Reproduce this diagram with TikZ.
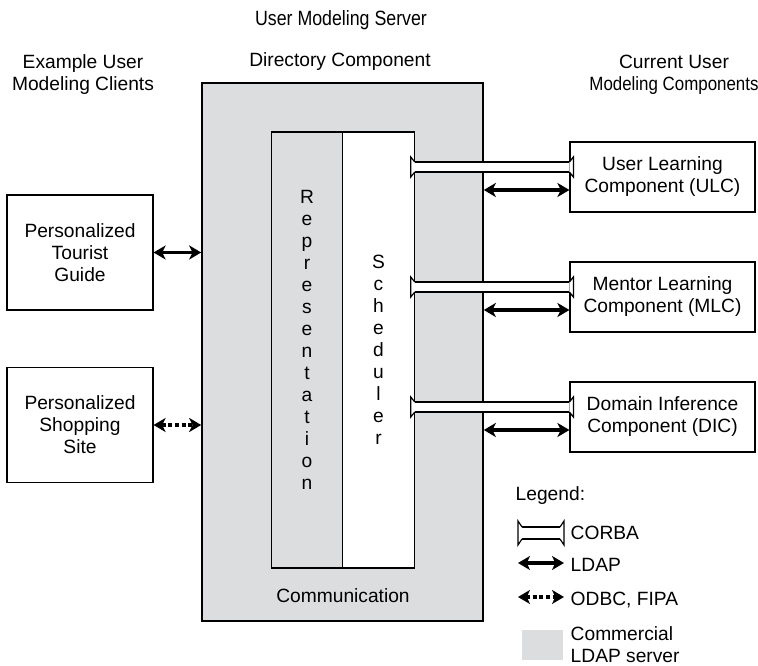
\documentclass[tikz,border=0pt]{standalone}
\usepackage{fontspec}
\setmainfont{Liberation Sans}
\usetikzlibrary{arrows.meta,calc}

\definecolor{servergray}{RGB}{220,221,223}

\tikzset{
  clientbox/.style={draw, line width=0.9pt, fill=white, align=center, minimum width=109.5pt, minimum height=86.25pt, inner sep=0pt},
  compbox/.style={draw, line width=0.9pt, fill=white, align=center, minimum width=138.75pt, minimum height=52.5pt, inner sep=0pt},
  column/.style={draw, line width=0.9pt, align=center, minimum width=53.5pt, minimum height=327pt, inner sep=0pt},
  ldap/.style={line width=2.6pt, {Stealth[length=9pt,width=10.5pt,inset=2.5pt]}-{Stealth[length=9pt,width=10.5pt,inset=2.5pt]}},
  odbc/.style={ldap, dash pattern=on 3pt off 2pt},
}

% CORBA pipe between two points at the same height (#1 = half height of the tube)
\newcommand{\corba}[3][5]{%
  \fill[white] ($(#2)+(0,-#1)$) rectangle ($(#3)+(0,#1)$);
  \draw[line width=0.9pt] ($(#2)+(0,-#1)$) -- ($(#3)+(0,-#1)$) ($(#2)+(0,#1)$) -- ($(#3)+(0,#1)$);
  \filldraw[fill=white,line width=0.9pt] ($(#2)+(0,-#1)$) -- ($(#2)+(-4,-2*#1)$) -- ($(#2)+(-4,2*#1)$) -- ($(#2)+(0,#1)$);
  \filldraw[fill=white,line width=0.9pt] ($(#3)+(0,-#1)$) -- ($(#3)+(4,-2*#1)$) -- ($(#3)+(4,2*#1)$) -- ($(#3)+(0,#1)$);
}

\begin{document}
\begin{tikzpicture}[x=0.75pt,y=-0.75pt,font=\fontsize{14.4}{16.5}\selectfont]
  \useasboundingbox (0,0) rectangle (758,666);

  % Headings
  \node (title) at (341,20) {\fontsize{15.5}{18}\selectfont\scalebox{0.86}[1]{User Modeling Server}};
  \node[align=center] (clients) at (83,75) {Example User\\Modeling Clients};
  \node (directory) at (340,62) {Directory Component};
  \node[align=center] (current) at (674,75) {Current User\\\scalebox{0.88}[1]{Modeling Components}};

  % Server
  \node[draw, line width=1.2pt, fill=servergray, minimum width=210.75pt, minimum height=403.5pt] (server) at (342.5,352) {};
  \node[column, fill=servergray] (repr) at (307,350) {};
  \node[align=center] (reprtext) at (307,340) {R\\e\\p\\r\\e\\s\\e\\n\\t\\a\\t\\i\\o\\n};
  \node[column, fill=white] (sched) at (378.5,350) {S\\c\\h\\e\\d\\u\\l\\e\\r};
  \node (comm) at (343,596) {Communication};

  % Clients
  \node[clientbox] (tourist) at (80,252.5) {Personalized\\Tourist\\Guide};
  \node[clientbox] (shop) at (80,425) {Personalized\\Shopping\\Site};
  \draw[ldap] (tourist.east) -- (tourist.east -| server.west);
  \draw[odbc] (shop.east) -- (shop.east -| server.west);

  % Components
  \node[compbox] (ulc) at (662.5,177) {User Learning\\Component (ULC)};
  \node[compbox] (mlc) at (662.5,297) {Mentor Learning\\Component (MLC)};
  \node[compbox] (dic) at (662.5,417) {Domain Inference\\Component (DIC)};

  \foreach \c in {ulc,mlc,dic} {
    \coordinate (\c pipe) at ([yshift=7.5pt]\c.west);
    \coordinate (\c start) at (sched.east |- \c pipe);
    \corba{\c start}{\c pipe}
    \draw[ldap] ([yshift=-9.75pt]\c.west) -- ([yshift=-9.75pt]\c.west -| server.east);
  }

  % Legend
  \node[anchor=west] (legend) at (511,496) {Legend:};
  \corba[6]{522,533}{560,533}
  \node[anchor=west] (corbatext) at (566,533) {CORBA};
  \draw[ldap] (518,563) -- (564,563);
  \node[anchor=west] (ldaptext) at (566,565) {LDAP};
  \draw[odbc] (518,597) -- (564,597);
  \node[anchor=west] (odbctext) at (566,600) {ODBC, FIPA};
  \fill[servergray] (522,630) rectangle (563,660);
  \node[anchor=west, align=left] (graytext) at (566,645) {Commercial\\LDAP server};

\end{tikzpicture}
\end{document}
